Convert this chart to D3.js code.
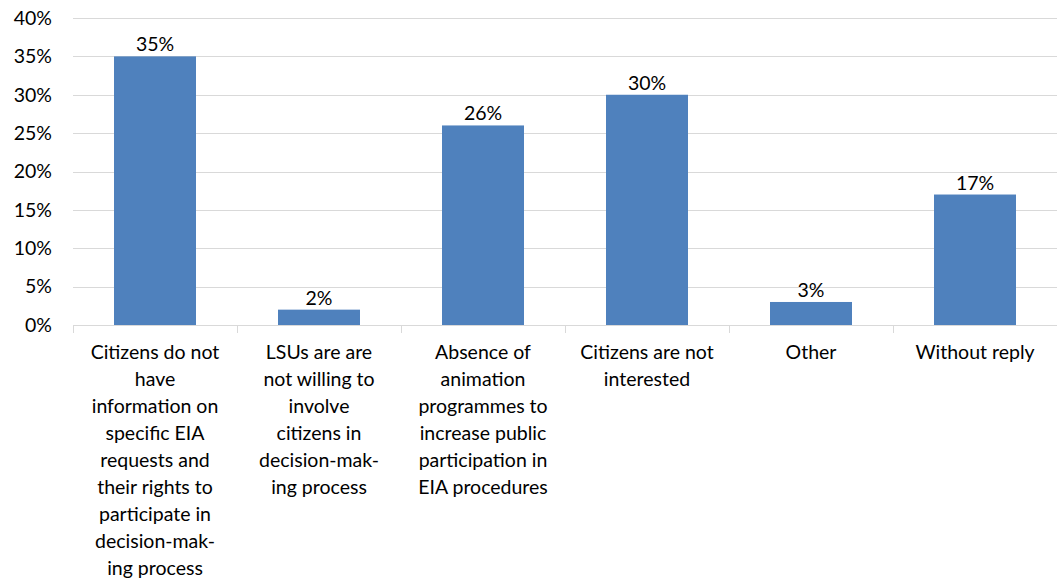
<!DOCTYPE html>
<html>
<head>
<meta charset="utf-8">
<script src="https://cdn.jsdelivr.net/npm/d3@7"></script>
<style>
  html, body { margin: 0; padding: 0; background: #fff; }
  svg { display: block; font-family: Lato, "Open Sans", sans-serif; }
</style>
</head>
<body>
<svg id="chart" width="1057" height="583"></svg>
<script>
// Categories (wrapped as they appear under the axis)
const categories = [
  ["Citizens do not", "have", "information on", "specific EIA", "requests and", "their rights to", "participate in", "decision-mak-", "ing process"],
  ["LSUs are are", "not willing to", "involve", "citizens in", "decision-mak-", "ing process"],
  ["Absence of", "animation", "programmes to", "increase public", "participation in", "EIA procedures"],
  ["Citizens are not", "interested"],
  ["Other"],
  ["Without reply"]
];
const values = [35, 2, 26, 30, 3, 17];
const yTicks = [0, 5, 10, 15, 20, 25, 30, 35, 40];

const FONT_SIZE = 19.5;

const svg = d3.select("#chart");
const margin = { left: 73, right: 0, top: 18, bottom: 258 };
const W = 1057, H = 583;
const innerW = W - margin.left - margin.right;
const innerH = H - margin.top - margin.bottom;

const g = svg.append("g").attr("transform", `translate(${margin.left},${margin.top})`);

const x = d3.scaleBand()
  .domain(d3.range(categories.length))
  .range([0, innerW])
  .paddingInner(0.5)
  .paddingOuter(0.25);

const y = d3.scaleLinear().domain([0, 40]).range([innerH, 0]);

// Horizontal gridlines
g.append("g").selectAll("line").data(yTicks.filter(t => t > 0)).join("line")
  .attr("x1", 0).attr("x2", innerW)
  .attr("y1", d => Math.round(y(d)) + 0.5).attr("y2", d => Math.round(y(d)) + 0.5)
  .attr("stroke", "#d9d9d9").attr("stroke-width", 1);

// Y axis labels
const yAxis = d3.axisLeft(y).tickValues(yTicks).tickFormat(d => d + "%").tickSize(0).tickPadding(21);
const ya = g.append("g").call(yAxis);
ya.select(".domain").remove();
ya.selectAll("text").attr("font-size", FONT_SIZE).attr("fill", "#000").attr("font-family", "Lato, sans-serif");

// Bars
g.append("g").selectAll("rect").data(values).join("rect")
  .attr("x", (d, i) => x(i))
  .attr("y", d => y(d))
  .attr("width", x.bandwidth())
  .attr("height", d => innerH - y(d))
  .attr("fill", "#4f81bd");

// Value labels
g.append("g").selectAll("text").data(values).join("text")
  .attr("x", (d, i) => x(i) + x.bandwidth() / 2)
  .attr("y", d => y(d) - 5)
  .attr("text-anchor", "middle")
  .attr("font-size", FONT_SIZE)
  .attr("fill", "#000")
  .text(d => d + "%");

// Baseline and category separators
const step = x.step();
g.append("line")
  .attr("x1", 0).attr("x2", innerW)
  .attr("y1", Math.round(innerH) + 0.5).attr("y2", Math.round(innerH) + 0.5)
  .attr("stroke", "#d9d9d9");
g.append("g").selectAll("line").data(d3.range(categories.length + 1)).join("line")
  .attr("x1", i => Math.round(i * step) + 0.5).attr("x2", i => Math.round(i * step) + 0.5)
  .attr("y1", innerH).attr("y2", innerH + 8)
  .attr("stroke", "#d9d9d9");

// Category labels
const cat = g.append("g").selectAll("text").data(categories).join("text")
  .attr("x", (d, i) => x(i) + x.bandwidth() / 2)
  .attr("y", innerH + 34)
  .attr("text-anchor", "middle")
  .attr("font-size", FONT_SIZE)
  .attr("fill", "#000");
cat.selectAll("tspan").data(d => d).join("tspan")
  .attr("x", function () { return d3.select(this.parentNode).attr("x"); })
  .attr("dy", (d, i) => i === 0 ? 0 : 27)
  .text(d => d);
</script>
</body>
</html>
